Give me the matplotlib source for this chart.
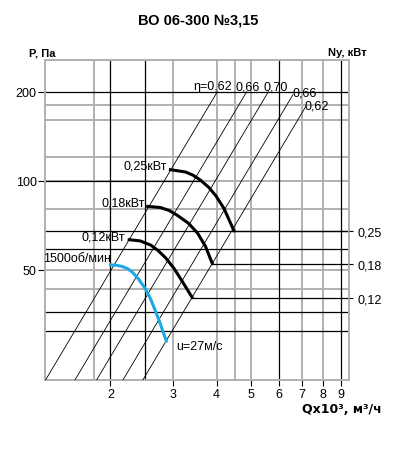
# ВО 06-300 №3,15 - fan performance chart (log-log)

import matplotlib
matplotlib.use("Agg")
import matplotlib.pyplot as plt
from matplotlib.ticker import NullLocator

plt.rcParams['font.family'] = ['Liberation Sans', 'DejaVu Sans']

# ------------------------------------------------------------
# data
# ------------------------------------------------------------
x_ticks = [2, 3, 4, 5, 6, 7, 8, 9]
y_ticks = [50, 100, 200]

v_gray = [1.8, 3, 4, 4.5, 5, 7, 8]
v_black = [2, 2.5, 6, 9]
h_gray = [180, 160, 120, 100, 80, 50, 43]
h_black = [200, 67.8, 58.8, 36, 31]

# right scale (Ny, kW) and the P level each one sits on
ny_labels = ['0,25', '0,18', '0,12']
ny_p = [67.8, 52.5, 40.2]

# efficiency lines: top end point (Q, P), lines follow P ~ Q^2
eta_labels = ['η=0,62', '0,66', '0,70', '0,66', '0,62']
eta_q_top = [4.02, 4.87, 5.61, 6.58, 7.18]
eta_p_top = [200, 200, 200, 195, 179]
eta_lab_q = [3.89, 4.91, 5.90, 7.13, 7.69]
eta_lab_p = [204, 204, 204, 194, 175]

# characteristic curves
q_1500 = [2.00, 2.08, 2.16, 2.24, 2.31, 2.40, 2.51, 2.60, 2.68, 2.78, 2.88]
p_1500 = [51.9, 51.8, 51.3, 50.4, 49.0, 46.6, 43.2, 39.8, 36.4, 32.4, 28.7]

q_012 = [2.26, 2.43, 2.60, 2.72, 2.87, 3.03, 3.20, 3.41]
p_012 = [63.2, 62.6, 60.6, 58.3, 54.8, 50.5, 45.6, 40.3]

q_018 = [2.55, 2.77, 2.93, 3.09, 3.33, 3.53, 3.72, 3.89]
p_018 = [81.9, 81.2, 79.4, 76.5, 71.8, 66.6, 60.0, 52.5]

q_025 = [2.96, 3.27, 3.43, 3.60, 3.80, 3.98, 4.20, 4.48]
p_025 = [109, 107, 104.4, 100.5, 95, 89, 80.5, 67.8]

curve_labels = ['0,25кВт', '0,18кВт', '0,12кВт']
curve_lab_q = [2.89, 2.51, 2.20]
curve_lab_p = [113, 84.5, 64.9]

# ------------------------------------------------------------
# figure
# ------------------------------------------------------------
fig = plt.figure(figsize=(3.96, 4.56), dpi=100)
ax = fig.add_axes([45 / 396, 1 - 381 / 456, 304 / 396, 320 / 456])
ax.set_xscale('log')
ax.set_yscale('log')
xmin, xmax = 1.304, 9.50
ymin, ymax = 21.2, 256
ax.set_xlim(xmin, xmax)
ax.set_ylim(ymin, ymax)

GRAY = '#b0b0b0'

# grid
for v in v_gray:
    ax.axvline(v, color=GRAY, lw=1.4, zorder=1)
for h in h_gray:
    ax.axhline(h, color=GRAY, lw=1.4, zorder=1)
for v in v_black:
    ax.axvline(v, color='black', lw=0.9, zorder=2)
for h in h_black:
    ax.axhline(h, color='black', lw=0.9, zorder=2)
# P=100 is black only up to the 0,25 kW curve
ax.plot([xmin, 3.6], [100, 100], color='black', lw=0.9, zorder=2)

# Ny reading lines from the end of each power curve
curve_ends = [q_025[-1], q_018[-1], q_012[-1]]
for q0, p in zip(curve_ends, ny_p):
    ax.plot([q0, xmax], [p, p], color='black', lw=0.9, zorder=2)

# efficiency lines
for qt, pt in zip(eta_q_top, eta_p_top):
    qb = qt * (ymin / pt) ** 0.5
    ax.plot([qb, qt], [ymin, pt], color='black', lw=0.6, zorder=3)
for lab, q, p in zip(eta_labels, eta_lab_q, eta_lab_p):
    ax.text(q, p, lab, ha='center', va='baseline', fontsize=9, zorder=5)

# curves
ax.plot(q_1500, p_1500, color='#1ca8e4', lw=2.2, zorder=4, solid_joinstyle='round')
for q, p in [(q_012, p_012), (q_018, p_018), (q_025, p_025)]:
    ax.plot(q, p, color='black', lw=2.2, zorder=4, solid_joinstyle='round')

for lab, q, p in zip(curve_labels, curve_lab_q, curve_lab_p):
    ax.text(q, p, lab, ha='right', va='center', fontsize=9, zorder=5)
ax.text(2.0, 54.7, '1500об/мин', ha='right', va='center', fontsize=9, zorder=5)
ax.text(3.08, 27.7, 'u=27м/с', ha='left', va='center', fontsize=9, zorder=5)

# axes / ticks
for s in ax.spines.values():
    s.set_color(GRAY)
    s.set_linewidth(1.4)
ax.set_xticks(x_ticks)
ax.set_xticklabels([str(t) for t in x_ticks])
ax.set_yticks(y_ticks)
ax.set_yticklabels([str(t) for t in y_ticks])
ax.xaxis.set_minor_locator(NullLocator())
ax.yaxis.set_minor_locator(NullLocator())
ax.tick_params(axis='x', length=4.3, width=0.8, pad=1.5, labelsize=9)
ax.tick_params(axis='y', length=5, width=0.8, pad=1, labelsize=9)

axr = ax.twinx()
axr.set_yscale('log')
axr.set_ylim(ymin, ymax)
axr.set_yticks(ny_p)
axr.set_yticklabels(ny_labels)
axr.yaxis.set_minor_locator(NullLocator())
axr.tick_params(axis='y', length=2.9, width=0.8, pad=3, labelsize=9)
for s in axr.spines.values():
    s.set_visible(False)

# titles
fig.text(0.501, 0.956, 'ВО 06-300 №3,15', ha='center', va='center',
         fontsize=10.5, fontweight='bold')
fig.text(28.7 / 396, 1 - 53.5 / 456, 'P, Па', ha='left', va='center',
         fontsize=8, fontweight='bold')
fig.text(366.7 / 396, 1 - 53.5 / 456, 'Ny, кВт', ha='right', va='center',
         fontsize=8, fontweight='bold')
fig.text(382 / 396, 1 - 409.5 / 456, 'Qx10³, м³/ч', ha='right', va='center',
         fontsize=9, fontweight='bold', family=['DejaVu Sans'])

fig.savefig('out.png', dpi=100)
